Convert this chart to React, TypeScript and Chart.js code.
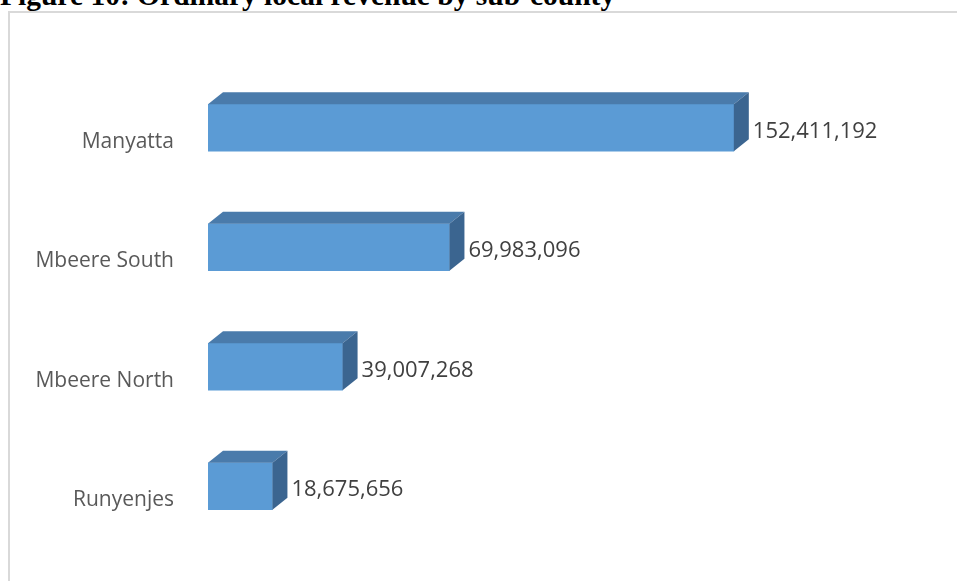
import React, { useEffect, useRef } from "react";
import { Chart, registerables } from "chart.js";

Chart.register(...registerables);

const TITLE = "Figure 10: Ordinary local revenue by sub-county";
const categories = ["Manyatta", "Mbeere South", "Mbeere North", "Runyenjes"];
const revenue = [152411192, 69983096, 39007268, 18675656];

const FRONT = "#5b9bd5";
const TOP = "#4a7bab";
const SIDE = "#3b6590";
const DX = 15;
const DY = 12;

const fmt = (v: number) => v.toLocaleString("en-US");

const bar3d = {
  id: "bar3d",
  afterDatasetsDraw(chart: any) {
    const ctx = chart.ctx;
    const meta = chart.getDatasetMeta(0);
    ctx.save();
    meta.data.forEach((el: any, i: number) => {
      const { x, y, base, height } = el.getProps(["x", "y", "base", "height"], true);
      const top = y - height / 2;
      const bottom = y + height / 2;
      const left = Math.min(base, x);
      const right = Math.max(base, x);
      // top face
      ctx.beginPath();
      ctx.moveTo(left, top);
      ctx.lineTo(left + DX, top - DY);
      ctx.lineTo(right + DX, top - DY);
      ctx.lineTo(right, top);
      ctx.closePath();
      ctx.fillStyle = TOP;
      ctx.fill();
      // side face
      ctx.beginPath();
      ctx.moveTo(right, top);
      ctx.lineTo(right + DX, top - DY);
      ctx.lineTo(right + DX, bottom - DY);
      ctx.lineTo(right, bottom);
      ctx.closePath();
      ctx.fillStyle = SIDE;
      ctx.fill();
      // value label
      ctx.fillStyle = "#404040";
      ctx.font = "22px 'Open Sans'";
      ctx.textAlign = "left";
      ctx.textBaseline = "middle";
      ctx.fillText(fmt(revenue[i]), right + DX + 4, y + 3.5);
    });
    ctx.restore();
  },
};

export default function App() {
  const ref = useRef<HTMLCanvasElement>(null);
  useEffect(() => {
    if (!ref.current) return;
    const chart = new Chart(ref.current, {
      type: "bar",
      data: {
        labels: categories,
        datasets: [
          {
            data: revenue,
            backgroundColor: FRONT,
            borderWidth: 0,
            barThickness: 47,
          },
        ],
      },
      options: {
        indexAxis: "y",
        animation: false,
        responsive: false,
        devicePixelRatio: 1,
        layout: { padding: { left: 0, right: 59, top: 68, bottom: 35 } },
        plugins: { legend: { display: false }, tooltip: { enabled: false } },
        scales: {
          x: { display: false, min: 0, max: 200000000 },
          y: {
            grid: { display: false, drawTicks: false },
            border: { display: false },
            afterFit: (s: any) => {
              s.width = 208;
              s.paddingTop = 0;
              s.paddingBottom = 0;
            },
            ticks: {
              padding: 34,
              labelOffset: 14,
              color: "#595959",
              font: { family: "'Open Sans'", size: 21 },
            },
          },
        },
      },
      plugins: [bar3d],
    });
    return () => chart.destroy();
  }, []);

  return (
    <div
      style={{
        position: "fixed",
        left: 0,
        top: 0,
        width: 957,
        height: 581,
        overflow: "hidden",
        background: "#fff",
      }}
    >
      <div
        style={{
          position: "absolute",
          left: 0,
          top: -21,
          whiteSpace: "nowrap",
          fontFamily: "'Liberation Serif', serif",
          fontWeight: "bold",
          fontSize: 29.5,
          lineHeight: "normal",
          color: "#000",
        }}
      >
        {TITLE}
      </div>
      <div
        style={{
          position: "absolute",
          left: 8,
          top: 11,
          width: 1100,
          height: 800,
          border: "2px solid #d9d9d9",
        }}
      />
      <canvas
        ref={ref}
        width={957}
        height={581}
        style={{ position: "absolute", left: 0, top: 0 }}
      />
    </div>
  );
}
